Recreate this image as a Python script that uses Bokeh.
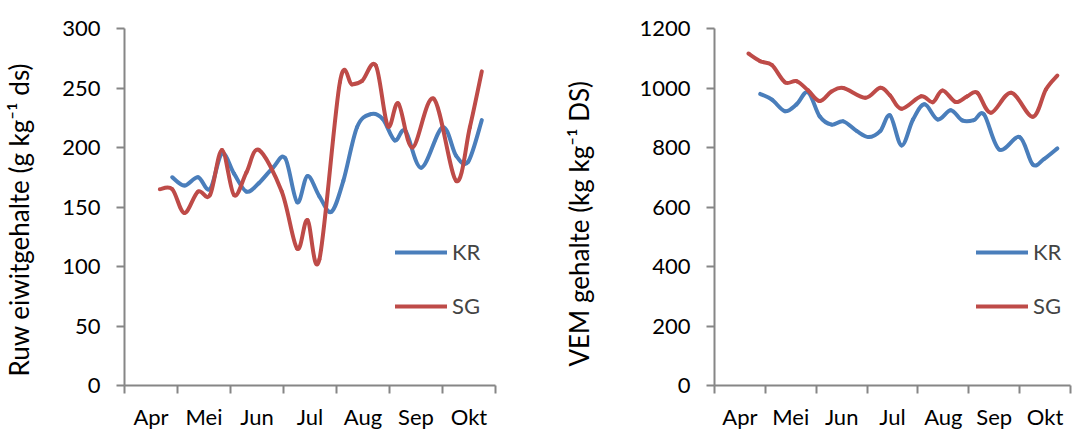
import numpy as np
from bokeh.plotting import figure
from bokeh.layouts import row
from bokeh.models import (Range1d, FixedTicker, SingleIntervalTicker, Legend,
                          LegendItem, Title, ColumnDataSource)
from bokeh.embed import file_html
from bokeh.resources import INLINE

# month labels (axis runs from 1 April to 1 November)
months = ["Apr", "Mei", "Jun", "Jul", "Aug", "Sep", "Okt"]
month_days = [30, 31, 30, 31, 31, 30, 31]

# sampling dates (month-day)
kr_dates = ["04-28", "05-05", "05-13", "05-20", "05-27", "06-03", "06-10", "06-17",
            "06-25", "07-02", "07-09", "07-15", "07-22", "07-29", "08-05", "08-13",
            "08-21", "08-28", "09-04", "09-10", "09-19", "10-01", "10-09", "10-16",
            "10-24"]
sg_dates = ["04-21", "04-28", "05-05", "05-13", "05-20", "05-27", "06-03", "06-10",
            "06-17", "06-30", "07-09", "07-15", "07-22", "08-03", "08-10", "08-16",
            "08-24", "08-31", "09-06", "09-14", "09-26", "10-09", "10-17", "10-24"]

# ruw eiwitgehalte (g/kg ds)
kr_re = [175, 168, 175, 165, 195, 178, 163, 170, 183, 191, 154, 176, 159, 146,
         172, 217, 228, 224, 206, 214, 183, 217, 193, 188, 223]
sg_re = [165, 165, 145, 163, 160, 198, 160, 179, 198, 163, 115, 139, 106, 255,
         253, 256, 269, 218, 237, 200, 241, 172, 217, 264]

# VEM gehalte
kr_vem = [980, 961, 922, 945, 986, 905, 877, 888, 855, 835, 855, 908, 807, 894,
          945, 894, 925, 891, 892, 911, 793, 835, 743, 762, 797]
sg_vem = [1116, 1090, 1077, 1019, 1023, 992, 956, 988, 1000, 967, 1001, 975, 930,
          972, 952, 992, 953, 972, 984, 917, 984, 903, 995, 1042]

BLUE = "#4A7EBB"
RED = "#BE4B48"
AXIS = "#868686"
FONT = "Lato"
FS = "22px"
H = 441


def month_pos(dates):
    out = []
    for d in dates:
        m, day = int(d[:2]), int(d[3:])
        out.append((m - 4) + (day - 1) / month_days[m - 4])
    return np.array(out)


def smooth(x, y):
    # bezier segments through the points (like Excel's smoothed line)
    x = np.asarray(x, float)
    y = np.asarray(y, float)
    xp = np.concatenate([[x[0]], x, [x[-1]]])
    yp = np.concatenate([[y[0]], y, [y[-1]]])
    return ColumnDataSource(dict(
        x0=x[:-1], y0=y[:-1], x1=x[1:], y1=y[1:],
        cx0=x[:-1] + (x[1:] - xp[:-3]) / 6, cy0=y[:-1] + (y[1:] - yp[:-3]) / 6,
        cx1=x[1:] - (xp[3:] - x[:-1]) / 6, cy1=y[1:] - (yp[3:] - y[:-1]) / 6))


def chart(kr, sg, ymax, ystep, title, width, left, right, top, frame_h,
          title_gap, title_offset, leg_x):
    bottom = H - top - frame_h
    p = figure(width=width, height=H, x_range=Range1d(0, 7), y_range=Range1d(0, ymax),
               output_backend="svg", toolbar_location=None,
               min_border_left=left, min_border_right=right,
               min_border_top=top, min_border_bottom=bottom)
    p.outline_line_color = None
    p.grid.visible = False

    xa = p.xaxis[0]
    xa.ticker = FixedTicker(ticks=[i + 0.5 for i in range(7)],
                            minor_ticks=list(range(8)))
    xa.major_label_overrides = {i + 0.5: m for i, m in enumerate(months)}
    xa.major_tick_line_color = None
    xa.major_tick_out = 0
    xa.major_tick_in = 0
    xa.minor_tick_out = 8
    xa.minor_tick_in = 0
    xa.minor_tick_line_color = AXIS
    xa.minor_tick_line_width = 2
    xa.major_label_standoff = 9

    ya = p.yaxis[0]
    ya.ticker = SingleIntervalTicker(interval=ystep)
    ya.minor_tick_line_color = None
    ya.major_tick_out = 8
    ya.major_tick_in = 0
    ya.major_tick_line_color = AXIS
    ya.major_tick_line_width = 2
    ya.major_label_standoff = 16
    # blank spacer label keeps the title clear of the tick labels
    ya.axis_label = "\u00a0"
    ya.axis_label_text_font_size = "1px"
    ya.axis_label_standoff = title_gap

    for ax in (xa, ya):
        ax.axis_line_color = AXIS
        ax.axis_line_width = 2
        ax.major_label_text_font = FONT
        ax.major_label_text_font_size = FS
        ax.major_label_text_color = "black"

    r_kr = p.bezier(x0="x0", y0="y0", x1="x1", y1="y1", cx0="cx0", cy0="cy0",
                    cx1="cx1", cy1="cy1", source=smooth(month_pos(kr_dates), kr),
                    line_color=BLUE, line_width=4, line_cap="round")
    r_sg = p.bezier(x0="x0", y0="y0", x1="x1", y1="y1", cx0="cx0", cy0="cy0",
                    cx1="cx1", cy1="cy1", source=smooth(month_pos(sg_dates), sg),
                    line_color=RED, line_width=4, line_cap="round")

    legend = Legend(items=[LegendItem(label="KR", renderers=[r_kr]),
                           LegendItem(label="SG", renderers=[r_sg])],
                    location=(leg_x, 66), padding=0, margin=0, spacing=27,
                    glyph_width=52, glyph_height=20, label_height=20,
                    label_standoff=5, border_line_color=None,
                    background_fill_alpha=0,
                    label_text_font=FONT, label_text_font_size=FS)
    p.add_layout(legend)

    p.add_layout(Title(text=title, align="left", offset=title_offset,
                       standoff=0, text_font=FONT,
                       text_font_size="26px", text_font_style="normal",
                       text_color="black"), "left")
    return p


p1 = chart(kr_re, sg_re, 300, 50, "Ruw eiwitgehalte (g kg\u207b\u00b9 ds)",
           width=560, left=124, right=65, top=26, frame_h=362,
           title_gap=21, title_offset=9, leg_x=271)
p2 = chart(kr_vem, sg_vem, 1200, 200, "VEM gehalte  (kg kg\u207b\u00b9 DS)",
           width=515, left=153, right=5, top=28, frame_h=357,
           title_gap=38, title_offset=19, leg_x=262)

p = row(p1, p2)
open("out.html", "w").write(file_html(p, INLINE))
